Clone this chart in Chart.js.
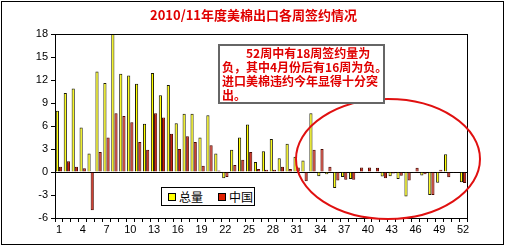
<!DOCTYPE html>
<html>
<head>
<meta charset="utf-8">
<script src="https://cdn.jsdelivr.net/npm/chart.js@4/dist/chart.umd.min.js"></script>
<style>
  body { margin: 0; background: #fff; }
  #wrap { position: relative; width: 507px; height: 248px; }
  #frame { position: absolute; left: 1px; top: 1px; width: 501px; height: 242px; border: 1px solid #000; pointer-events: none; }
  #title { position: absolute; left: 0; top: 7px; width: 507px; text-align: center; font: bold 13px "Noto Sans CJK SC", sans-serif; line-height: 16px; color: #e00000; }
  #note { position: absolute; left: 218px; top: 44px; width: 161px; height: 56px; border: 2px solid #666; background: #fff;
          font: bold 12px "Noto Sans CJK SC", sans-serif; line-height: 14px; color: #e00000; padding-left: 2px; white-space: nowrap; }
  #legend { position: absolute; left: 161px; top: 187px; width: 92px; height: 17px; border: 1px solid #000; background: #fff;
            font: 12px "Noto Sans CJK SC", sans-serif; line-height: 17px; color: #000; }
  .sw { position: absolute; top: 5px; width: 6px; height: 6px; border: 1px solid #000; }
  .lb { position: absolute; top: 0; }
</style>
</head>
<body>
<div id="wrap">
  <canvas id="myChart" width="507" height="248"></canvas>
  <div id="title">2010/11年度美棉出口各周签约情况</div>
  <div id="note"><span style="padding-left:24px">52周中有18周签约量为</span><br>负，其中4月份后有16周为负。<br>进口美棉违约今年显得十分突<br>出。</div>
  <div id="legend">
    <div class="sw" style="left:6px;background:#ffff00"></div><div class="lb" style="left:17px">总量</div>
    <div class="sw" style="left:56px;background:#e02000"></div><div class="lb" style="left:67px">中国</div>
  </div>
  <div id="frame"></div>
</div>
<script>
  // 周次
  var weeks = [];
  for (var i = 1; i <= 52; i++) weeks.push(String(i));

  // 总量 (万包)
  var totalValues = [8.0, 10.3, 10.9, 5.8, 2.4, 13.1, 11.6, 18.0, 12.8, 12.6,
    11.5, 6.3, 12.9, 10.0, 11.35, 6.35, 7.6, 7.6, 4.5, 7.4,
    2.4, -0.8, 2.9, 4.5, 6.2, 1.3, 2.7, 4.3, 1.8, 3.7,
    2.0, 1.5, 7.65, -0.55, -0.3, -2.1, -0.65, -0.9, -0.1, -0.1,
    -0.1, -0.6, -0.55, -0.9, -3.2, -0.1, -0.45, -3.0, -1.4, 2.3,
    -0.1, -1.35];

  // 中国
  var chinaValues = [0.7, 1.4, 0.7, 0.5, -5.0, 2.6, 4.5, 7.65, 7.3, 6.5,
    3.9, 2.9, 7.65, 7.1, 5.0, 3.0, 4.65, 3.9, 0.8, 3.5,
    0.2, -0.65, 0.9, 1.6, 2.6, 0.4, 0.3, 0.3, 0.7, 0.4,
    0.6, -1.2, 2.9, 3.0, 0.7, -1.1, -1.0, -1.0, 0.6, 0.6,
    0.55, -0.8, -0.2, -0.5, -1.1, 0.55, -0.3, -3.0, 0.3, -0.7,
    -0.1, -1.45];

  var yTicks = [-6, -3, 0, 3, 6, 9, 12, 15, 18];

  // 边框和红圈
  var extras = {
    id: 'extras',
    afterDraw: function (chart) {
      var c = chart.ctx, a = chart.chartArea;
      c.save();
      c.strokeStyle = '#000';
      c.lineWidth = 1;
      c.strokeRect(Math.round(a.left) + 0.5, Math.round(a.top) + 0.5, Math.round(a.right - a.left), Math.round(a.bottom - a.top));
      c.strokeStyle = '#e01010';
      c.lineWidth = 2;
      c.beginPath();
      c.ellipse(388, 159, 92, 60, 0, 0, Math.PI * 2);
      c.stroke();
      c.restore();
    }
  };

  var ctx = document.getElementById('myChart').getContext('2d');
  var myChart = new Chart(ctx, {
    type: 'bar',
    data: {
      labels: weeks,
      datasets: [{
        label: '总量',
        data: totalValues,
        backgroundColor: '#ffff00',
        borderColor: '#1a1a00',
        borderWidth: 1,
        categoryPercentage: 0.8,
        barPercentage: 1.0
      }, {
        label: '中国',
        data: chinaValues,
        backgroundColor: '#c82010',
        borderColor: '#4a0800',
        borderWidth: 1,
        categoryPercentage: 0.8,
        barPercentage: 1.0
      }]
    },
    options: {
      responsive: false,
      animation: false,
      layout: { padding: { top: 34, right: 40, left: 0, bottom: 0 } },
      plugins: {
        legend: { display: false },
        title: { display: false },
        tooltip: { enabled: false }
      },
      scales: {
        x: {
          grid: { offset: true, drawOnChartArea: false, color: '#000', tickLength: 4 },
          border: { color: '#000' },
          ticks: {
            autoSkip: false, maxRotation: 0, padding: 1, color: '#000',
            font: { family: 'Liberation Sans', size: 11 },
            callback: function (v, i) { return i % 3 === 0 ? weeks[i] : ''; }
          },
          afterFit: function (s) { s.height = 30; }
        },
        y: {
          min: -6, max: 18,
          afterBuildTicks: function (s) { s.ticks = yTicks.map(function (v) { return { value: v }; }); },
          grid: {
            color: function (c) { return c.tick && c.tick.value === 0 ? '#000' : 'rgba(0,0,0,0)'; },
            tickColor: '#000', tickLength: 4
          },
          border: { color: '#000' },
          ticks: { padding: 3, color: '#000', font: { family: 'Liberation Sans', size: 11 } },
          afterFit: function (s) { s.width = 55; }
        }
      }
    },
    plugins: [extras]
  });
</script>
</body>
</html>
